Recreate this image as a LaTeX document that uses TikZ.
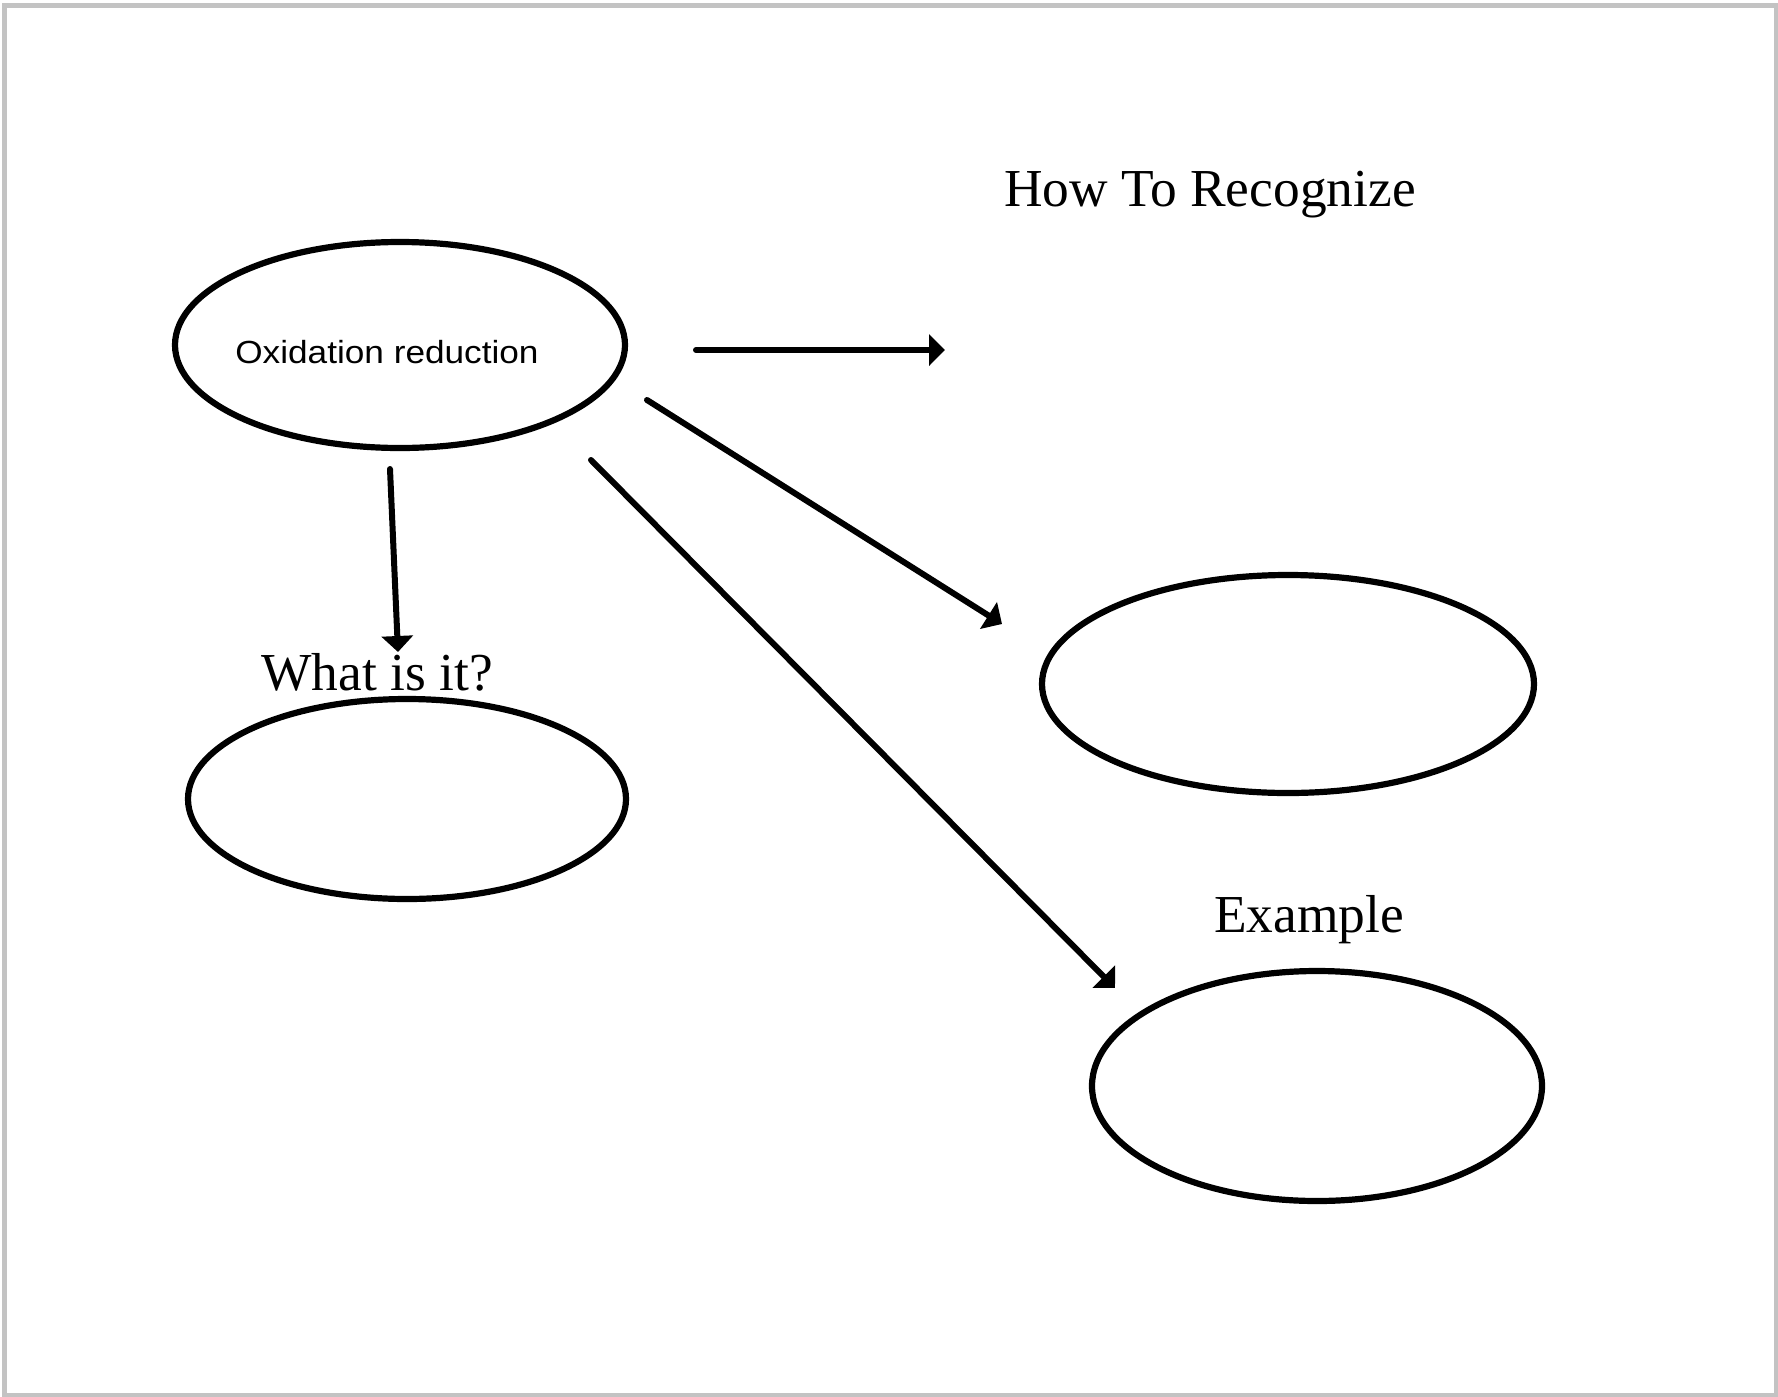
\documentclass[tikz,border=0pt]{standalone}
\usepackage{fontspec}
\setmainfont{Liberation Serif}
\newfontfamily\arialf{Liberation Sans}
\usetikzlibrary{shapes.geometric,arrows.meta}
\definecolor{framegray}{RGB}{195,195,195}
\begin{document}
\begin{tikzpicture}[x=0.5pt,y=-0.5pt,
  bubble/.style={ellipse,draw=black,line width=3.1pt,inner sep=0pt},
  conn/.style={line width=3pt,line cap=round,-{Triangle[width=15.5pt,length=8pt]}},
  title/.style={anchor=base,inner sep=0pt,font=\fontsize{26.7pt}{30pt}\selectfont}]
\useasboundingbox (0,0) rectangle (1778,1397);
\fill[white] (0,0) rectangle (1778,1397);
\draw[framegray,line width=2.5pt] (4.5,5) rectangle (1776,1395);

\node[bubble,minimum width=225pt,minimum height=103pt] (ox) at (400,345) {};
\node[anchor=base,inner sep=0pt,font=\arialf\fontsize{16pt}{19pt}\selectfont] (oxt) at (387,363) {\scalebox{1.1}[1]{Oxidation reduction}};
\node[bubble,minimum width=219pt,minimum height=100pt] (what) at (407,799) {};
\node[bubble,minimum width=246pt,minimum height=109pt] (how) at (1288,684) {};
\node[bubble,minimum width=225pt,minimum height=115pt] (ex) at (1317,1086) {};

\node[title] (howt) at (1210,206) {How To Recognize};
\node[title] (whatt) at (377,690) {What is it?};
\node[title] (ext) at (1309,932) {Example};

\coordinate (s1) at (696,350); \coordinate (e1) at (945,350);
\coordinate (s2) at (647,400); \coordinate (e2) at (1002,624);
\coordinate (s3) at (390,469); \coordinate (e3) at (398,652);
\coordinate (s4) at (591,460); \coordinate (e4) at (1115,988);
\draw[conn] (s1) -- (e1);
\draw[conn] (s2) -- (e2);
\draw[conn] (s3) -- (e3);
\draw[conn] (s4) -- (e4);
\end{tikzpicture}
\end{document}
